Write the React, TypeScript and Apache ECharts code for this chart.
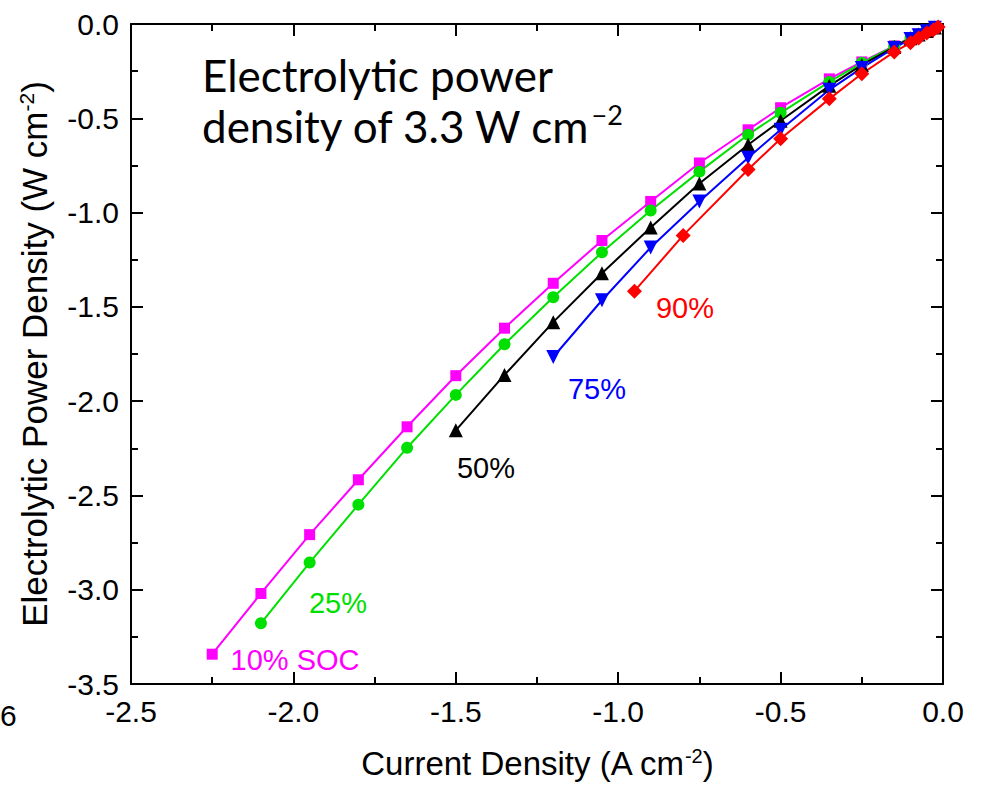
import React, { useEffect, useRef } from "react";
import * as echarts from "echarts";

// Current density (A cm^-2) and electrolytic power density (W cm^-2) per state of charge
const current10 = [-2.25, -2.1, -1.95, -1.8, -1.65, -1.5, -1.35, -1.2, -1.05, -0.9, -0.75, -0.6, -0.5, -0.35, -0.25, -0.15, -0.1, -0.075, -0.05, -0.025];
const power10 = [-3.342, -3.02, -2.708, -2.417, -2.136, -1.865, -1.613, -1.375, -1.148, -0.941, -0.737, -0.561, -0.444, -0.291, -0.201, -0.116, -0.072, -0.053, -0.035, -0.017];

const current25 = [-2.1, -1.95, -1.8, -1.65, -1.5, -1.35, -1.2, -1.05, -0.9, -0.75, -0.6, -0.5, -0.35, -0.25, -0.15, -0.1, -0.075, -0.05, -0.025];
const power25 = [-3.178, -2.856, -2.549, -2.247, -1.967, -1.698, -1.449, -1.211, -0.989, -0.783, -0.587, -0.471, -0.307, -0.206, -0.118, -0.073, -0.054, -0.036, -0.018];

const current50 = [-1.5, -1.35, -1.2, -1.05, -0.9, -0.75, -0.6, -0.5, -0.35, -0.25, -0.15, -0.1, -0.075, -0.05, -0.025];
const power50 = [-2.155, -1.861, -1.581, -1.322, -1.079, -0.846, -0.64, -0.513, -0.328, -0.217, -0.122, -0.076, -0.056, -0.037, -0.019];

const current75 = [-1.2, -1.05, -0.9, -0.75, -0.6, -0.5, -0.35, -0.25, -0.15, -0.1, -0.075, -0.05, -0.025];
const power75 = [-1.766, -1.465, -1.185, -0.941, -0.709, -0.561, -0.349, -0.233, -0.127, -0.08, -0.059, -0.039, -0.02];

const current90 = [-0.95, -0.8, -0.6, -0.5, -0.35, -0.25, -0.15, -0.1, -0.075, -0.05, -0.03, -0.015];
const power90 = [-1.417, -1.121, -0.772, -0.608, -0.397, -0.264, -0.148, -0.1, -0.074, -0.048, -0.032, -0.016];

const seriesNames = ["10% SOC", "25%", "50%", "75%", "90%"];
const xTitle = "Current Density (A cm";
const yTitle = "Electrolytic Power Density (W cm";
const noteLine1 = "Electrolytic power";
const noteLine2 = "density of 3.3 W cm";
const noteSup = "\u22122";

const FONT = "'Liberation Sans', Arial, sans-serif";
const NOTE_FONT = "Lato, 'Open Sans', sans-serif";

function pairs(xs: number[], ys: number[]) {
  return xs.map((x, i) => [x, ys[i]]);
}

export default function App() {
  const ref = useRef<HTMLDivElement>(null);

  useEffect(() => {
    if (!ref.current) return;
    const chart = echarts.init(ref.current, undefined, { renderer: "svg" });

    const axisLine = { show: true, onZero: false, lineStyle: { color: "#000", width: 2 } };
    const axisTick = { show: true, inside: true, length: 12, lineStyle: { color: "#000", width: 2 } };
    const minorTick = { show: true, splitNumber: 2, length: 7, lineStyle: { color: "#000", width: 2 } };

    const mk = (name: string, data: number[][], color: string, symbol: string, size: number, rotate = 0) => ({
      name,
      type: "line",
      data,
      xAxisIndex: 0,
      yAxisIndex: 0,
      symbol,
      symbolSize: size,
      symbolRotate: rotate,
      showAllSymbol: true,
      lineStyle: { color, width: 2 },
      itemStyle: { color, borderWidth: 0 },
      z: 3,
    });

    const labelStyle = (text: string, x: number, y: number, color: string) => ({
      type: "text",
      x,
      y,
      style: { text, fill: color, font: `29px ${FONT}`, textAlign: "center", textVerticalAlign: "middle" },
      z: 10,
    });

    const titleStyle = (size: number) => ({
      color: "#000",
      fontSize: size,
      fontFamily: FONT,
      lineHeight: size + 2,
      rich: {
        sup: { fontSize: Math.round(size * 0.6), fontFamily: FONT, color: "#000", verticalAlign: "top", lineHeight: size + 2 },
        n: { fontSize: size, fontFamily: FONT, color: "#000", lineHeight: size + 2 },
      },
    });

    chart.setOption({
      animation: false,
      backgroundColor: "#fff",
      grid: { left: 131, right: 40, top: 24, bottom: 100, containLabel: false },
      xAxis: [
        {
          type: "value",
          position: "bottom",
          min: -2.5,
          max: 0,
          interval: 0.5,
          axisLine,
          axisTick,
          minorTick,
          splitLine: { show: false },
          axisLabel: { color: "#000", fontSize: 30, fontFamily: FONT, margin: 12, formatter: (v: number) => v.toFixed(1) },
          name: `${xTitle}{sup|-2}{n|)}`,
          nameLocation: "middle",
          nameGap: 62,
          nameTextStyle: titleStyle(33),
        },
        {
          type: "value",
          position: "top",
          min: -2.5,
          max: 0,
          interval: 0.5,
          axisLine,
          axisTick,
          minorTick,
          splitLine: { show: false },
          axisLabel: { show: false },
        },
      ],
      yAxis: [
        {
          type: "value",
          position: "left",
          min: -3.5,
          max: 0,
          interval: 0.5,
          axisLine,
          axisTick,
          minorTick,
          splitLine: { show: false },
          axisLabel: { color: "#000", fontSize: 30, fontFamily: FONT, margin: 12, formatter: (v: number) => v.toFixed(1) },
          name: `${yTitle}{sup|-2}{n|)}`,
          nameLocation: "middle",
          nameRotate: 90,
          nameGap: 78,
          nameTextStyle: titleStyle(35),
        },
        {
          type: "value",
          position: "right",
          min: -3.5,
          max: 0,
          interval: 0.5,
          axisLine,
          axisTick,
          minorTick,
          splitLine: { show: false },
          axisLabel: { show: false },
        },
      ],
      series: [
        mk(seriesNames[0], pairs(current10, power10), "#ff00ff", "rect", 11),
        mk(seriesNames[1], pairs(current25, power25), "#00e000", "circle", 12),
        mk(seriesNames[2], pairs(current50, power50), "#000000", "triangle", 14),
        mk(seriesNames[3], pairs(current75, power75), "#0000ff", "triangle", 14, 180),
        mk(seriesNames[4], pairs(current90, power90), "#ff0000", "diamond", 15),
      ],
      graphic: [
        {
          type: "text",
          x: 202,
          y: 53,
          style: { text: noteLine1, fill: "#000", font: `44px ${NOTE_FONT}`, textVerticalAlign: "top" },
        },
        {
          type: "text",
          x: 202,
          y: 101,
          style: {
            text: `${noteLine2}{sup|${noteSup}}`,
            fill: "#000",
            font: `44px ${NOTE_FONT}`,
            lineHeight: 50,
            textVerticalAlign: "top",
            rich: {
              sup: { font: `27px ${NOTE_FONT}`, fill: "#000", verticalAlign: "top", lineHeight: 40 },
            },
          },
        },
        labelStyle(seriesNames[0], 295, 660, "#ff00ff"),
        labelStyle(seriesNames[1], 338, 603, "#00e000"),
        labelStyle(seriesNames[2], 486, 468, "#000000"),
        labelStyle(seriesNames[3], 597, 389, "#0000ff"),
        labelStyle(seriesNames[4], 685, 308, "#ff0000"),
        {
          type: "text",
          x: 0,
          y: 715,
          style: { text: "6", fill: "#000", font: `30px ${FONT}`, textAlign: "left", textVerticalAlign: "middle" },
        },
      ],
    });

    return () => chart.dispose();
  }, []);

  return <div ref={ref} style={{ position: "fixed", left: 0, top: 0, width: 983, height: 786, background: "#fff" }} />;
}
